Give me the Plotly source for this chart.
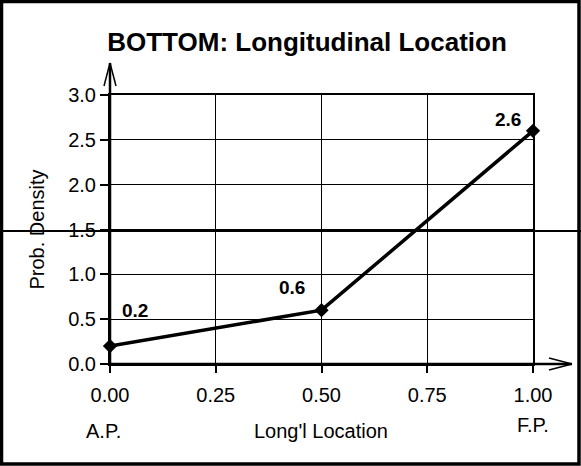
import plotly.graph_objects as go

# data
location = [0.0, 0.5, 1.0]
density = [0.2, 0.6, 2.6]
point_labels = ["0.2", "0.6", "2.6"]
x_ticks = [0.0, 0.25, 0.5, 0.75, 1.0]
y_ticks = [0.0, 0.5, 1.0, 1.5, 2.0, 2.5, 3.0]

W, H = 581, 466
L, R, T, B = 110, 48, 95, 102
pw, ph = W - L - R, H - T - B

def px(x):  # pixel -> paper x
    return (x - L) / pw

def py(y):  # pixel -> paper y
    return (H - B - y) / ph

FONT = "Liberation Sans, Arial, sans-serif"

fig = go.Figure()

fig.add_trace(go.Scatter(
    x=location, y=density,
    mode="lines+markers",
    line=dict(color="black", width=3.5),
    marker=dict(symbol="diamond", size=11, color="black"),
    cliponaxis=False,
    showlegend=False,
    hoverinfo="x+y",
))

# value labels
offsets = [(25, 36), (-30, 23), (-25, 11)]
for xv, yv, lab, (dx, dy) in zip(location, density, point_labels, offsets):
    fig.add_annotation(x=xv, y=yv, text="<b>%s</b>" % lab, showarrow=False,
                       xshift=dx, yshift=dy, xanchor="center", yanchor="middle",
                       font=dict(size=19, color="black", family=FONT))

# axis extensions with open arrowheads
def seg(x0, y0, x1, y1, w=1.5):
    fig.add_shape(type="line", xref="paper", yref="paper",
                  x0=px(x0), y0=py(y0), x1=px(x1), y1=py(y1),
                  line=dict(color="black", width=w), layer="above")

seg(110, 364, 110, 63, 2.5)
seg(104, 86, 110, 63)
seg(116, 86, 110, 63)
seg(110, 364, 572, 364, 2.5)
seg(549, 358, 572, 364)
seg(549, 370, 572, 364)

# bottom labels
for cx, cy, txt in [(103, 431, "A.P."), (321, 431, "Long'l Location"), (533, 425, "F.P.")]:
    fig.add_annotation(xref="paper", yref="paper", x=px(cx), y=py(cy), text=txt,
                       showarrow=False, xanchor="center", yanchor="middle",
                       font=dict(size=20, color="black", family=FONT))

# stray horizontal line across the whole picture
fig.add_shape(type="line", xref="paper", yref="paper", x0=px(0), x1=px(W), y0=py(231), y1=py(231),
              line=dict(color="black", width=2), layer="above")

# outer frame
fig.add_shape(type="rect", xref="paper", yref="paper",
              x0=px(1.5), x1=px(W - 2), y0=py(1.5), y1=py(H - 2),
              line=dict(color="black", width=3.5))

fig.update_layout(
    width=W, height=H,
    margin=dict(l=L, r=R, t=T, b=B),
    paper_bgcolor="white", plot_bgcolor="white",
    font=dict(family=FONT, size=20, color="black"),
    title=dict(text="<b>BOTTOM: Longitudinal Location</b>", xref="container", x=307 / W,
               xanchor="center", y=1 - 42 / H, yanchor="middle",
               font=dict(size=26, color="black", family=FONT)),
    xaxis=dict(range=[0, 1], tickvals=x_ticks, tickformat=".2f",
               showgrid=True, gridcolor="black", gridwidth=1,
               showline=True, linecolor="black", linewidth=2, mirror=True,
               ticks="outside", ticklen=7, tickwidth=1.5, tickcolor="black",
               ticklabelstandoff=5,
               zeroline=False, fixedrange=True),
    yaxis=dict(range=[0, 3], tickvals=y_ticks, tickformat=".1f",
               showgrid=True, gridcolor="black", gridwidth=1,
               showline=True, linecolor="black", linewidth=2, mirror=True,
               ticks="outside", ticklen=8, tickwidth=1.5, tickcolor="black",
               zeroline=False, fixedrange=True,
               title=dict(text="Prob. Density", standoff=18, font=dict(size=20))),
)

fig.write_html("out.html", config={"displayModeBar": False},
               post_script="document.body.style.margin='0';")
